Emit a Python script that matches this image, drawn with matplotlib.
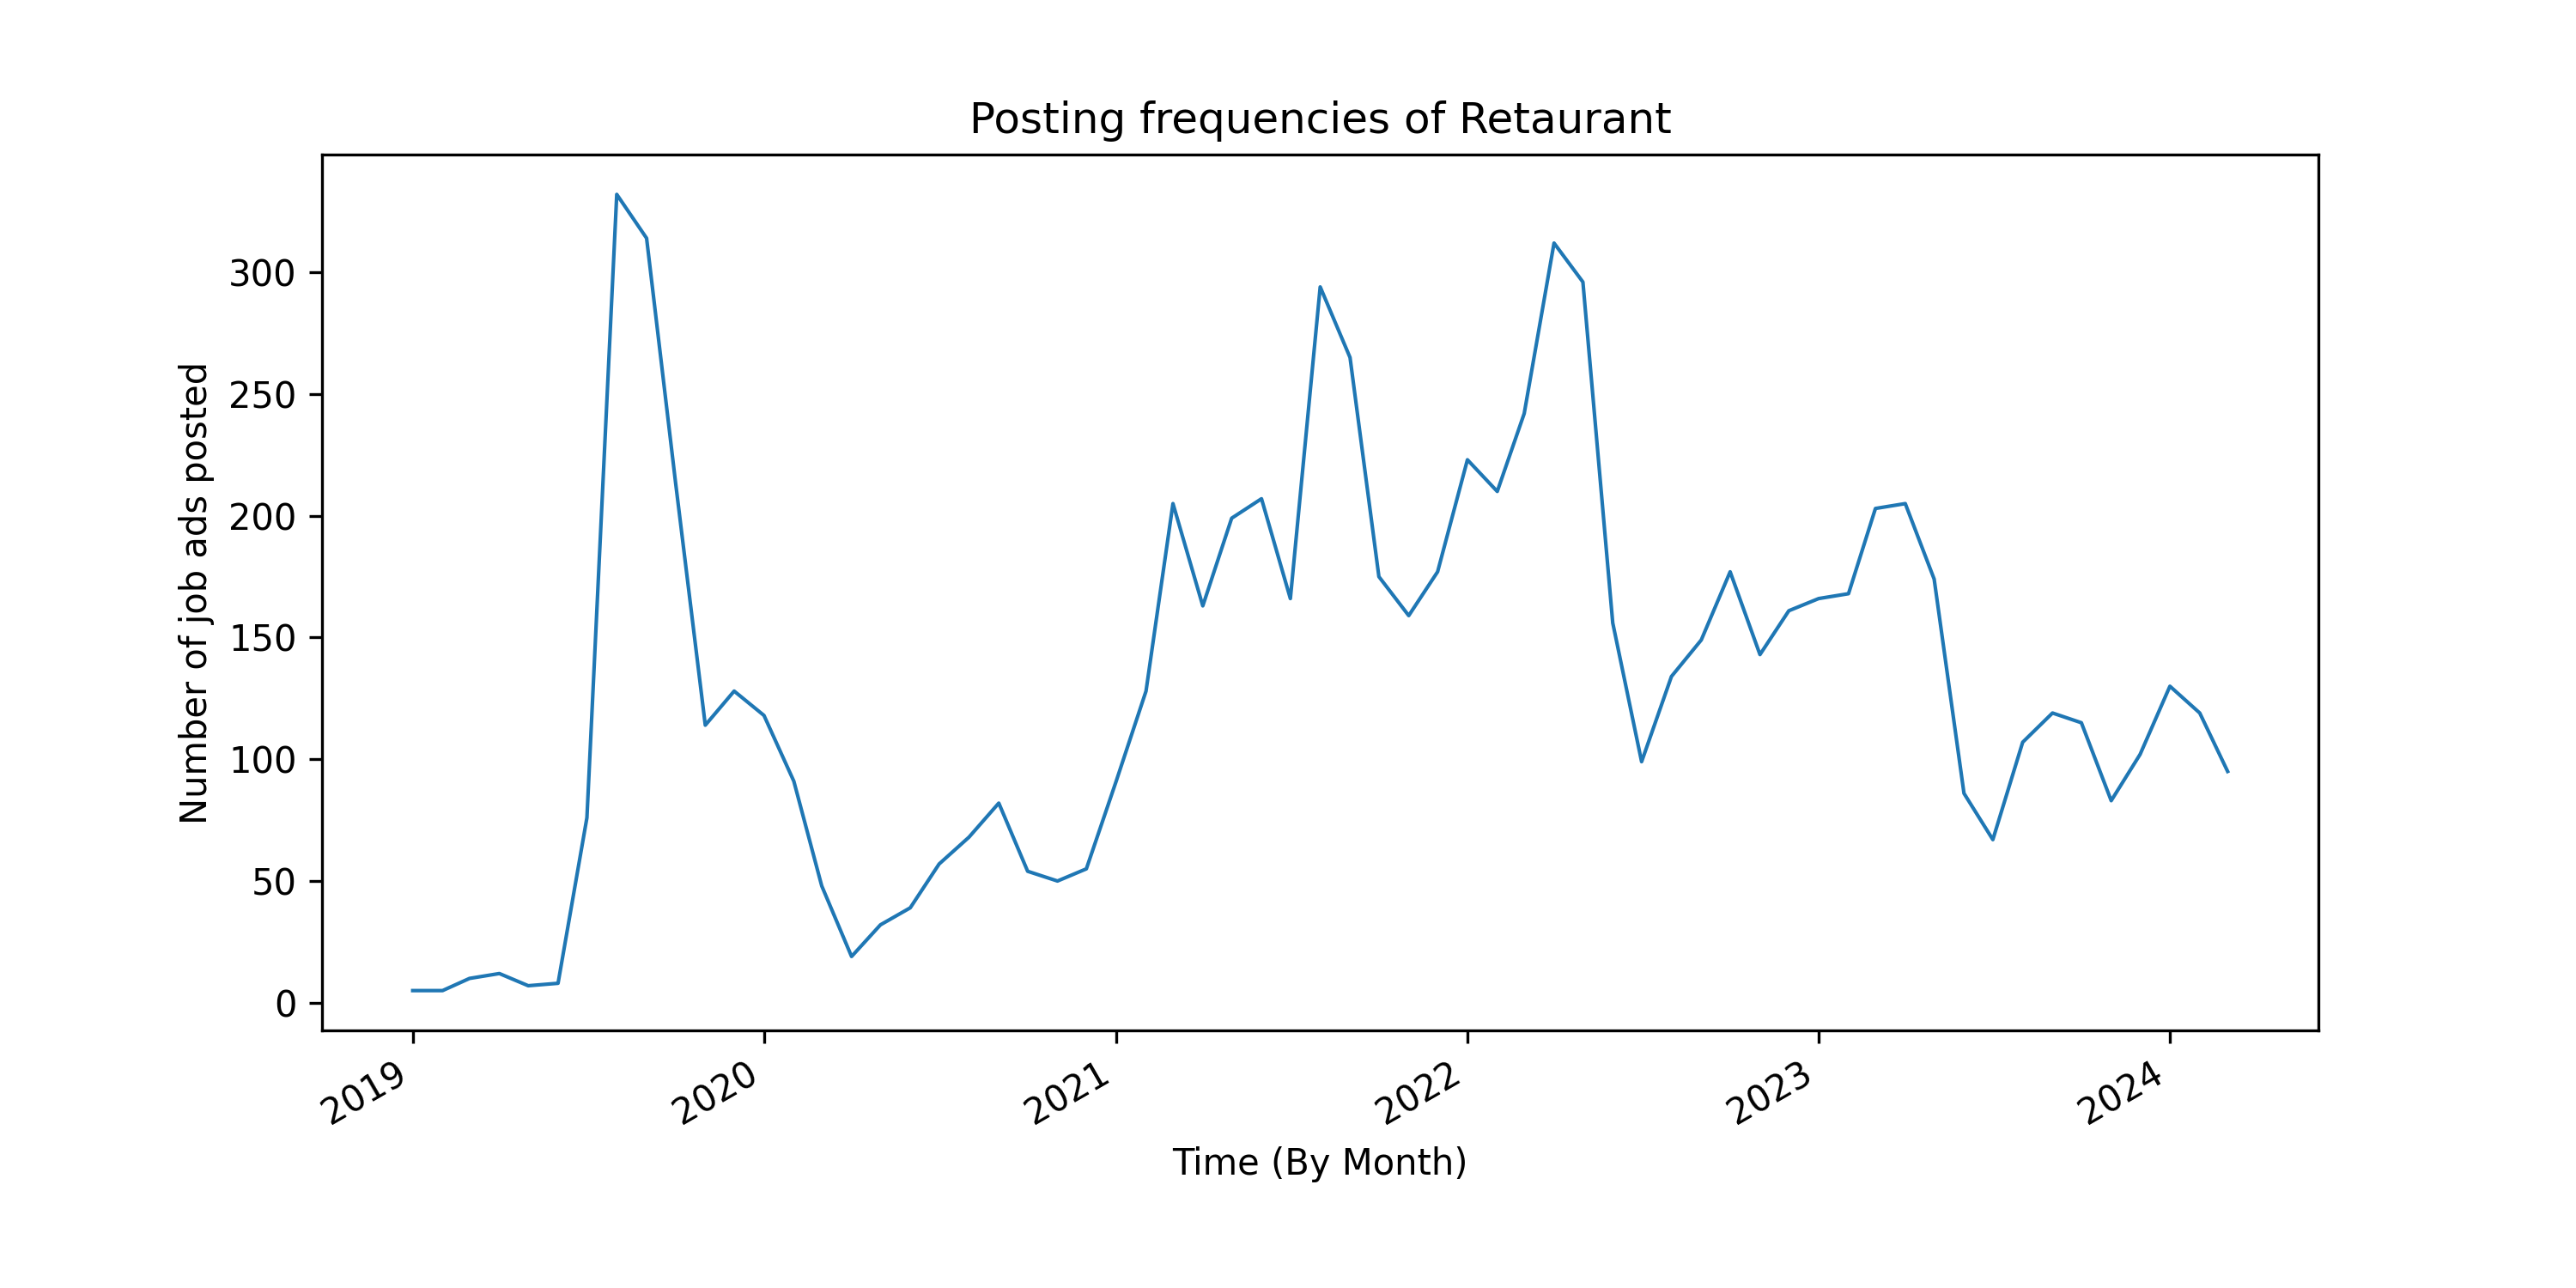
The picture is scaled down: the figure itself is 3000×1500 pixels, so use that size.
import matplotlib
matplotlib.use("Agg")
import matplotlib.pyplot as plt
import pandas as pd

months = pd.date_range("2019-01-01", "2024-03-01", freq="MS")
counts = [5, 5, 10, 12, 7, 8, 76, 332, 314, 214, 114, 128,
          118, 91, 48, 19, 32, 39, 57, 68, 82, 54, 50, 55,
          91, 128, 205, 163, 199, 207, 166, 294, 265, 175, 159, 177,
          223, 210, 242, 312, 296, 156, 99, 134, 149, 177, 143, 161,
          166, 168, 203, 205, 174, 86, 67, 107, 119, 115, 83, 102,
          130, 119, 95]

fig, ax = plt.subplots(figsize=(10, 5))
ax.plot(months, counts, linewidth=1)
ax.set_title("Posting frequencies of Retaurant")
ax.set_xlabel("Time (By Month)")
ax.set_ylabel("Number of job ads posted")
fig.autofmt_xdate()
plt.savefig("out.png", dpi=300)
plt.close()
